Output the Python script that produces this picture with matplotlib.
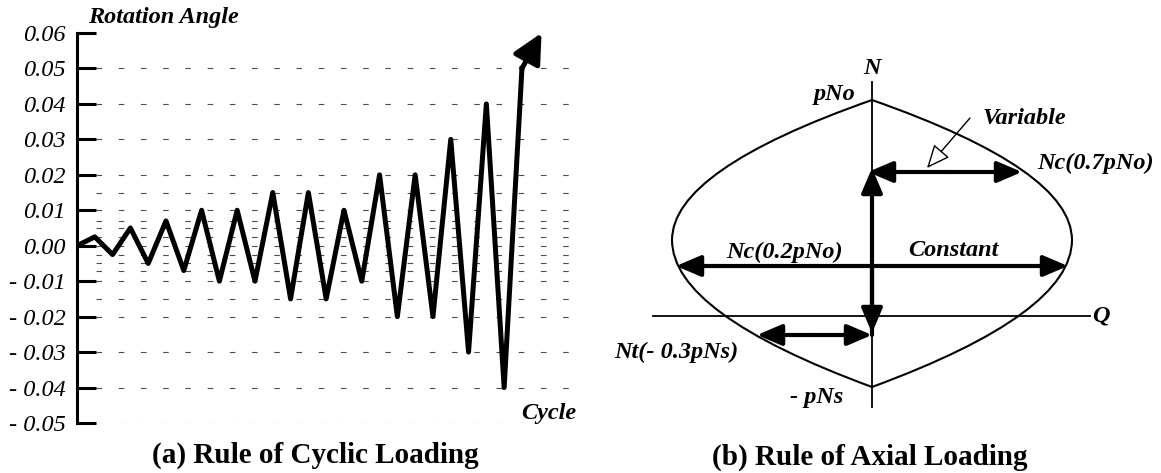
import matplotlib
matplotlib.use('Agg')
import matplotlib.pyplot as plt
from matplotlib.patches import FancyArrowPatch, PathPatch
from matplotlib.path import Path

plt.rcParams['font.family'] = ['Liberation Serif', 'DejaVu Serif']

# (a) cyclic loading history: rotation angle at each half cycle
cycle = list(range(26))
rotation = [0.0, 0.0025, -0.0025, 0.005, -0.005, 0.007, -0.007, 0.01, -0.01,
            0.01, -0.01, 0.015, -0.015, 0.015, -0.015, 0.01, -0.01, 0.02,
            -0.02, 0.02, -0.02, 0.03, -0.03, 0.04, -0.04, 0.05]
arrow_end = (26.1, 0.06)
y_ticks = [0.06, 0.05, 0.04, 0.03, 0.02, 0.01, 0.0, -0.01, -0.02, -0.03, -0.04, -0.05]
y_ticklabels = ['0.06', '0.05', '0.04', '0.03', '0.02', '0.01', '0.00',
                '- 0.01', '- 0.02', '- 0.03', '- 0.04', '- 0.05']
grid_levels = sorted(set(rotation) | {-0.05})

# (b) axial loading rule (schematic units)
pNo = 216
pNs = -71
q_max = 200
n_at_qmax = 76
constant_n, constant_q = 50, 196
variable_n, variable_q = 144, 150
tension_n, tension_q = -19, -115

fig = plt.figure(figsize=(11.61, 4.73), dpi=100)

# ---------- left panel ----------
ax = fig.add_axes([77 / 1161, 50 / 473, 493 / 1161, 390 / 473])
ax.set_xlim(0, 27.7)
ax.set_ylim(-0.05, 0.06)
for lv in grid_levels:
    ax.axhline(lv, xmin=0.039, xmax=1, color='0.3', lw=0.8, ls=(0, (5, 15)), zorder=1)
ax.plot(cycle, rotation, color='k', lw=3.6, zorder=3)
ax.annotate('', xy=arrow_end, xytext=(cycle[-1], rotation[-1]),
            arrowprops=dict(arrowstyle='-|>,head_length=0.9,head_width=0.45',
                            lw=3.6, color='k', mutation_scale=20,
                            shrinkA=0, shrinkB=0), zorder=3)
for s in ['top', 'right', 'bottom']:
    ax.spines[s].set_visible(False)
ax.spines['left'].set_linewidth(2.2)
ax.set_xticks([])
ax.set_yticks(y_ticks)
ax.set_yticklabels(y_ticklabels, fontstyle='italic', fontsize=17.5)
ax.tick_params(axis='y', direction='in', length=13.7, width=2.2, pad=8)

fig.text(163 / 1161, 1 - 18 / 473, 'Rotation Angle', ha='center', va='center',
         fontsize=17.5, fontweight='bold', fontstyle='italic')
fig.text(576 / 1161, 1 - 413 / 473, 'Cycle', ha='right', va='center',
         fontsize=17.5, fontweight='bold', fontstyle='italic')
fig.text(315 / 1161, 1 - 455 / 473, '(a) Rule of Cyclic Loading', ha='center',
         va='center', fontsize=21, fontweight='bold')

# ---------- right panel ----------
bx = fig.add_axes([600 / 1161, 0, 561 / 1161, 1])
bx.set_xlim(-272, 289)
bx.set_ylim(-157, 316)
bx.axis('off')

# N and Q axes
bx.plot([0, 0], [-91, 234], color='k', lw=1.3)
bx.plot([-219, 218], [0, 0], color='k', lw=1.3)

# envelope made of quadratic curves
verts = [(0, pNo), (-q_max, (pNo + n_at_qmax) / 2), (-q_max, n_at_qmax),
         (-q_max, (n_at_qmax + pNs) / 2), (0, pNs),
         (q_max, (n_at_qmax + pNs) / 2), (q_max, n_at_qmax),
         (q_max, (pNo + n_at_qmax) / 2), (0, pNo)]
codes = [Path.MOVETO] + [Path.CURVE3] * 8
bx.add_patch(PathPatch(Path(verts, codes), fill=False, lw=1.5, ec='k'))


def thick_arrow(p0, p1):
    bx.add_patch(FancyArrowPatch(p0, p1, arrowstyle='-|>,head_length=0.75,head_width=0.32',
                                 mutation_scale=20, lw=3, color='k',
                                 shrinkA=0, shrinkB=0, zorder=4))


thick_arrow((0, constant_n), (-constant_q, constant_n))
thick_arrow((0, constant_n), (constant_q, constant_n))
thick_arrow((0, tension_n), (0, variable_n + 4))
thick_arrow((0, constant_n), (0, tension_n + 2))
thick_arrow((variable_q / 2, variable_n), (variable_q, variable_n))
thick_arrow((variable_q / 2, variable_n), (-4, variable_n))
thick_arrow((tension_q / 2, tension_n), (tension_q, tension_n))
thick_arrow((tension_q / 2, tension_n), (0, tension_n))

bx.add_patch(FancyArrowPatch((98, 198), (55, 148),
                             arrowstyle='-|>,head_length=0.8,head_width=0.35',
                             mutation_scale=18, lw=1, ec='k', fc='white',
                             shrinkA=0, shrinkB=0, zorder=5))

lab = dict(fontsize=17.5, fontweight='bold', fontstyle='italic', va='center')
bx.text(0, 247, 'N', ha='center', **lab)
bx.text(220, 0, 'Q', ha='left', **lab)
bx.text(-17, 221, 'pNo', ha='right', **lab)
bx.text(-29, -81, '- pNs', ha='right', **lab)
bx.text(-87, 64, 'Nc(0.2pNo)', ha='center', **lab)
bx.text(81, 65, 'Constant', ha='center', **lab)
bx.text(165, 153, 'Nc(0.7pNo)', ha='left', **lab)
bx.text(111, 197, 'Variable', ha='left', **lab)
bx.text(-196, -36, 'Nt(- 0.3pNs)', ha='center', **lab)

fig.text(870 / 1161, 1 - 457 / 473, '(b) Rule of Axial Loading', ha='center',
         va='center', fontsize=21, fontweight='bold')

fig.savefig('out.png', dpi=100)
